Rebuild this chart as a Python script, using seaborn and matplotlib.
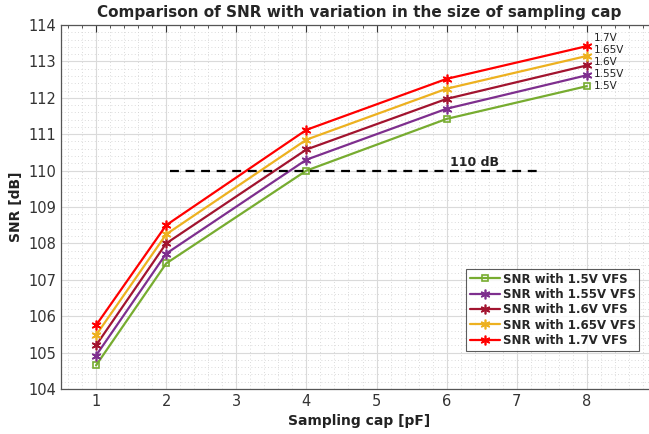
import matplotlib
matplotlib.use("Agg")
import matplotlib.pyplot as plt
import numpy as np
import pandas as pd
import seaborn as sns
from matplotlib.ticker import MultipleLocator

# sampling cap values (pF)
caps = [1, 2, 4, 6, 8]

# SNR per full-scale voltage
snr_150 = [104.65, 107.45, 110.00, 111.42, 112.32]
snr_155 = [104.92, 107.72, 110.30, 111.70, 112.62]
snr_160 = [105.20, 108.00, 110.58, 111.97, 112.89]
snr_165 = [105.48, 108.25, 110.85, 112.25, 113.15]
snr_170 = [105.75, 108.50, 111.12, 112.52, 113.42]

vfs_names = ["1.5V", "1.55V", "1.6V", "1.65V", "1.7V"]
colors = ["#77AC30", "#7E2F8E", "#A2142F", "#EDB120", "#FF0000"]
# vertical nudge of the end labels, in points
label_nudge = [0, 0.7, 2.2, 4.3, 5.8]

ref_level = 110
ref_span = [2.05, 7.35]


def plot():
    sns.set_style("white")
    plt.rcParams['font.family'] = ['DejaVu Sans']

    fig = plt.figure(figsize=(6.49, 4.34), dpi=100)
    ax = fig.add_axes([61 / 649, 45 / 434, 596 / 649, 364 / 434])

    series = [snr_150, snr_155, snr_160, snr_165, snr_170]
    for i, (vals, name, col) in enumerate(zip(series, vfs_names, colors)):
        df = pd.DataFrame({"cap": caps, "snr": vals})
        if i == 0:
            mk = dict(marker='s', markersize=5, markerfacecolor='none')
        else:
            mk = dict(marker=(6, 2, 0), markersize=7, markerfacecolor=col)
        sns.lineplot(data=df, x="cap", y="snr", ax=ax, color=col, lw=1.6,
                     markeredgecolor=col, markeredgewidth=1.2,
                     label="SNR with %s VFS" % name, **mk)
        ax.annotate(name, xy=(caps[-1], vals[-1]), xytext=(5, label_nudge[i]),
                    textcoords='offset points', fontsize=7.5,
                    color='#222222', va='center', ha='left')

    ax.plot(ref_span, [ref_level, ref_level], color='black', ls=(0, (4, 3)), lw=1.6)
    ax.text(6.4, ref_level + 0.04, "110 dB", fontsize=9, fontweight='bold',
            ha='center', va='bottom', color='#222222')

    ax.set_xlim(0.5, 9)
    ax.set_ylim(104, 114)
    ax.xaxis.set_major_locator(MultipleLocator(1))
    ax.xaxis.set_minor_locator(MultipleLocator(0.2))
    ax.yaxis.set_major_locator(MultipleLocator(1))
    ax.yaxis.set_minor_locator(MultipleLocator(0.2))
    ax.set_xticks(range(1, 9))

    ax.grid(which='major', color='#dadada', lw=0.8)
    ax.grid(which='minor', color='#cfcfcf', lw=0.6, ls=(0, (1, 3)))
    ax.set_axisbelow(True)

    ax.tick_params(which='both', direction='in', top=True, right=False,
                   labelsize=10.5, colors='#333333')
    ax.tick_params(which='major', length=5)
    ax.tick_params(which='minor', length=2.5)
    for s in ax.spines.values():
        s.set_color('#555555')
        s.set_linewidth(0.9)

    ax.set_xlabel("Sampling cap [pF]", fontsize=10, fontweight='bold', color='#222222')
    ax.set_ylabel("SNR [dB]", fontsize=10, fontweight='bold', color='#222222')
    ax.set_title("Comparison of SNR with variation in the size of sampling cap",
                 fontsize=11, fontweight='bold', pad=6)

    leg = ax.legend(loc='upper left', bbox_to_anchor=(466 / 649, 1 - 269 / 434),
                    bbox_transform=fig.transFigure, frameon=True, borderaxespad=0,
                    fancybox=False, edgecolor='#333333', handlelength=2.6,
                    handletextpad=0.2, borderpad=0.3, labelspacing=0.2,
                    prop={'weight': 'bold', 'size': 8.5})
    leg.get_frame().set_linewidth(0.8)

    fig.savefig("out.png", dpi=100)


if __name__ == '__main__':
    plot()
